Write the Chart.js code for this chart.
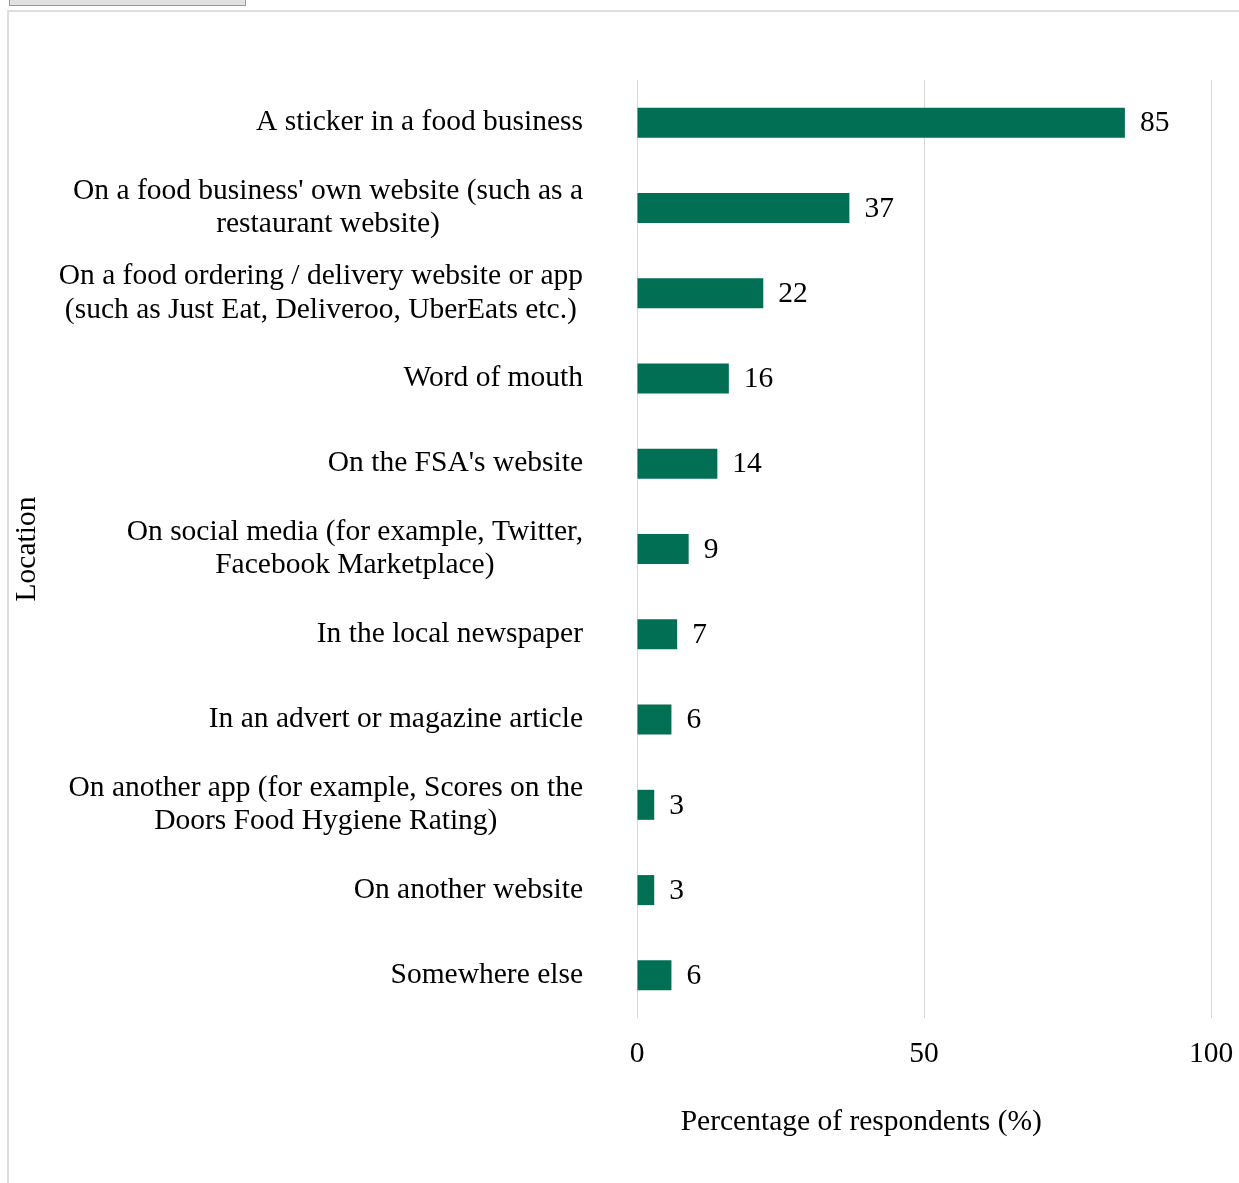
<!DOCTYPE html>
<html>
<head>
<meta charset="utf-8">
<script src="https://cdn.jsdelivr.net/npm/chart.js@4"></script>
<style>
  html, body { margin: 0; padding: 0; background: #fff; }
  body { width: 1239px; height: 1183px; position: relative; overflow: hidden; }
  #btn { position: absolute; left: 9px; top: -4px; width: 235px; height: 8px; background: #e1e1e1; border: 1px solid #9a9a9a; }
  #frame { position: absolute; left: 7px; top: 10px; width: 1240px; height: 1180px; border: 2px solid #dedede; box-sizing: border-box; }
  #wrap { position: absolute; left: 0; top: 0; width: 1239px; height: 1183px; }
</style>
</head>
<body>
<div id="btn"></div>
<div id="frame"></div>
<div id="wrap"><canvas id="c"></canvas></div>
<script>
const categories = [
  "A sticker in a food business",
  ["On a food business' own website (such as a", "restaurant website)"],
  ["On a food ordering / delivery website or app", "(such as Just Eat, Deliveroo, UberEats etc.)"],
  "Word of mouth",
  "On the FSA's website",
  ["On social media (for example, Twitter,", "Facebook Marketplace)"],
  "In the local newspaper",
  "In an advert or magazine article",
  ["On another app (for example, Scores on the", "Doors Food Hygiene Rating)"],
  "On another website",
  "Somewhere else"
];
const percentages = [85, 37, 22, 16, 14, 9, 7, 6, 3, 3, 6];
const xTicks = [0, 50, 100];
const xTitle = "Percentage of respondents (%)";
const yTitle = "Location";

const FONT = "'Liberation Serif', 'Times New Roman', serif";
const FS = 29.5;
const LINE_H = 33.3;
const LABEL_GAP = 54;

const valueLabels = {
  id: 'valueLabels',
  afterDatasetsDraw(chart) {
    const ctx = chart.ctx;
    const meta = chart.getDatasetMeta(0);
    ctx.save();
    ctx.font = FS + "px " + FONT;
    ctx.fillStyle = "#000";
    ctx.textAlign = "left";
    ctx.textBaseline = "middle";
    meta.data.forEach((bar, i) => {
      ctx.fillText(String(percentages[i]), bar.x + 15, bar.y + 1);
    });
    ctx.restore();
  }
};

// Category labels: block right-aligned to the axis, lines centred within the block
const categoryLabels = {
  id: 'categoryLabels',
  afterDraw(chart) {
    const ctx = chart.ctx;
    const yScale = chart.scales.y;
    const right = chart.chartArea.left - LABEL_GAP;
    ctx.save();
    ctx.font = FS + "px " + FONT;
    ctx.fillStyle = "#000";
    ctx.textAlign = "center";
    ctx.textBaseline = "middle";
    categories.forEach((lab, i) => {
      const lines = Array.isArray(lab) ? lab : [lab];
      const widest = Math.max(...lines.map(l => ctx.measureText(l).width));
      const cx = right - widest / 2;
      const cy = yScale.getPixelForTick(i);
      const y0 = cy - (lines.length - 1) * LINE_H / 2;
      lines.forEach((l, k) => ctx.fillText(l, cx, y0 + k * LINE_H));
    });
    ctx.restore();
  }
};

new Chart(document.getElementById('c'), {
  type: 'bar',
  data: {
    labels: categories,
    datasets: [{
      data: percentages,
      backgroundColor: '#006f53',
      borderWidth: 0,
      categoryPercentage: 1,
      barPercentage: 0.352
    }]
  },
  options: {
    indexAxis: 'y',
    responsive: true,
    maintainAspectRatio: false,
    animation: false,
    layout: { padding: { top: 80, right: 28, left: 10, bottom: 0 } },
    plugins: { legend: { display: false }, tooltip: { enabled: false } },
    scales: {
      x: {
        min: 0, max: 100,
        afterBuildTicks(scale) { scale.ticks = xTicks.map(v => ({ value: v })); },
        afterFit(scale) { scale.height = 165; scale.paddingRight = 0; scale.paddingLeft = 0; },
        grid: { color: '#d9d9d9', lineWidth: 1, drawTicks: false },
        border: { display: false },
        ticks: { font: { family: FONT, size: FS }, color: '#000', padding: 19, maxRotation: 0 },
        title: { display: true, text: xTitle + "\u00a0".repeat(17), font: { family: FONT, size: FS }, color: '#000', padding: { top: 0, bottom: 43 } }
      },
      y: {
        afterFit(scale) { scale.width = 627; },
        grid: { display: false, drawTicks: false },
        border: { display: false },
        ticks: { display: false, autoSkip: false },
        title: { display: true, text: yTitle, font: { family: FONT, size: FS }, color: '#000', padding: { top: 0, bottom: 0 } }
      }
    }
  },
  plugins: [valueLabels, categoryLabels]
});
</script>
</body>
</html>
